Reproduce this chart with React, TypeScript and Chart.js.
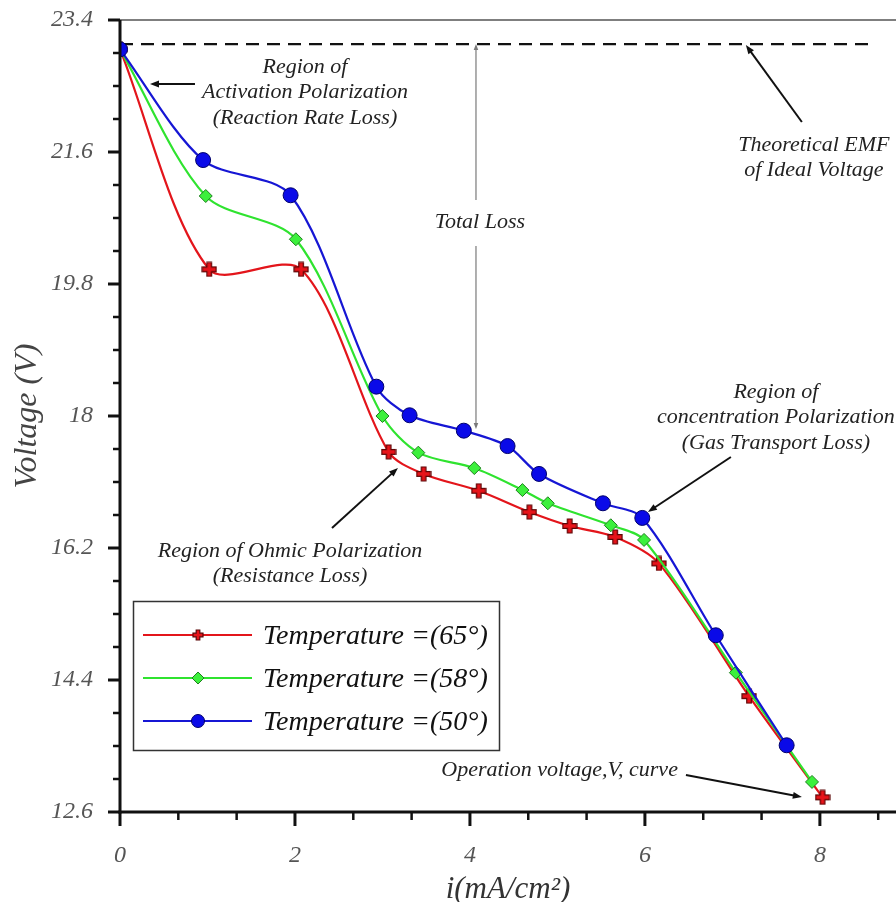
import React, { useEffect, useRef } from "react";
import { Chart, registerables } from "chart.js";
import { drawPoint } from "chart.js/helpers";

Chart.register(...registerables);

// ---------- data ----------
const seriesLabels = ["Temperature =(65°)", "Temperature =(58°)", "Temperature =(50°)"];

const current65 = [0, 1.02, 2.07, 3.07, 3.47, 4.1, 4.68, 5.14, 5.66, 6.16, 7.19, 8.03];
const voltage65 = [23.0, 20.0, 20.0, 17.51, 17.21, 16.98, 16.69, 16.5, 16.35, 15.99, 14.18, 12.8];

const current58 = [0, 0.98, 2.01, 3.0, 3.41, 4.05, 4.6, 4.89, 5.61, 5.99, 7.04, 7.91];
const voltage58 = [23.0, 21.0, 20.41, 18.0, 17.5, 17.29, 16.99, 16.81, 16.51, 16.31, 14.5, 13.01];

const current50 = [0, 0.95, 1.95, 2.93, 3.31, 3.93, 4.43, 4.79, 5.52, 5.97, 6.81, 7.62];
const voltage50 = [23.0, 21.49, 21.01, 18.4, 18.01, 17.8, 17.59, 17.21, 16.81, 16.61, 15.01, 13.51];

const emfCurrent = [0, 8.6];
const emfVoltage = [23.07, 23.07];

const yMajorTicks = [12.6, 14.4, 16.2, 18, 19.8, 21.6, 23.4];
const yTickLabels = ["12.6", "14.4", "16.2", "18", "19.8", "21.6", "23.4"];
const xMajorTicks = [0, 2, 4, 6, 8];
const xTickLabels = ["0", "2", "4", "6", "8"];
const yMinorStep = 0.45;
const xMinorStep = 2 / 3;

const X_MIN = 0;
const X_MAX = 8.87;
const Y_MIN = 12.6;
const Y_MAX = 23.4;

// ---------- helpers ----------
const pts = (xs: number[], ys: number[]) => xs.map((x, i) => ({ x, y: ys[i] }));
const near = (a: number, b: number) => Math.abs(a - b) < 1e-6;

const yAllTicks: number[] = [];
for (let v = Y_MIN; v <= Y_MAX + 1e-6; v += yMinorStep) yAllTicks.push(Math.round(v * 1000) / 1000);
const xAllTicks: number[] = [];
for (let i = 0; i * xMinorStep <= X_MAX + 1e-6; i++) xAllTicks.push(i * xMinorStep);

const SERIF = "'Liberation Serif', 'DejaVu Serif', serif";

const colors = {
  red: "#e3151b",
  green: "#2fe32f",
  blue: "#1616d4",
};

// annotation anchors are in data coordinates
const notes = [
  { lines: ["Region of", "Activation Polarization", "(Reaction Rate Loss)"], x: 2.114, y: 22.759, align: "center" },
  { lines: ["Total Loss"], x: 4.114, y: 20.645, align: "center" },
  { lines: ["Theoretical EMF", "of Ideal Voltage"], x: 7.931, y: 21.695, align: "center" },
  { lines: ["Region of", "concentration Polarization", "(Gas Transport Loss)"], x: 7.497, y: 18.327, align: "center" },
  { lines: ["Region of Ohmic Polarization", "(Resistance Loss)"], x: 1.943, y: 16.159, align: "center" },
  { lines: ["Operation voltage,V, curve"], x: 6.377, y: 13.173, align: "right" },
];

const arrows = [
  { from: [0.857, 22.527], to: [0.343, 22.527], color: "#111", width: 2, head: 9 },
  { from: [4.069, 20.945], to: [4.069, 23.073], color: "#7a7a7a", width: 1.2, head: 6 },
  { from: [4.069, 20.318], to: [4.069, 17.823], color: "#7a7a7a", width: 1.2, head: 6 },
  { from: [7.794, 22.009], to: [7.154, 23.059], color: "#111", width: 2, head: 9 },
  { from: [6.983, 17.441], to: [6.034, 16.691], color: "#111", width: 2, head: 9 },
  { from: [2.423, 16.473], to: [3.177, 17.291], color: "#111", width: 2, head: 9 },
  { from: [6.469, 13.105], to: [7.794, 12.805], color: "#111", width: 2, head: 9 },
];

function makeCross(size: number, arm: number) {
  const c = document.createElement("canvas");
  c.width = size;
  c.height = size;
  const g = c.getContext("2d")!;
  const m = size / 2;
  const L = size / 2 - 1;
  g.beginPath();
  g.moveTo(m - arm, m - L);
  g.lineTo(m + arm, m - L);
  g.lineTo(m + arm, m - arm);
  g.lineTo(m + L, m - arm);
  g.lineTo(m + L, m + arm);
  g.lineTo(m + arm, m + arm);
  g.lineTo(m + arm, m + L);
  g.lineTo(m - arm, m + L);
  g.lineTo(m - arm, m + arm);
  g.lineTo(m - L, m + arm);
  g.lineTo(m - L, m - arm);
  g.lineTo(m - arm, m - arm);
  g.closePath();
  g.fillStyle = "#e8141a";
  g.fill();
  g.strokeStyle = "#5a0505";
  g.lineWidth = 1.2;
  g.stroke();
  return c;
}

function line(ctx: CanvasRenderingContext2D, x1: number, y1: number, x2: number, y2: number) {
  ctx.beginPath();
  ctx.moveTo(x1, y1);
  ctx.lineTo(x2, y2);
  ctx.stroke();
}

function makeDecor(legendCross: HTMLCanvasElement) {
  const legendStyles: any[] = [
    { color: colors.red, pointStyle: legendCross, radius: 6, fill: colors.red, stroke: "#7a0a0a", bw: 1 },
    { color: colors.green, pointStyle: "rectRot", radius: 6, fill: "#3cf03c", stroke: "#1f7f1f", bw: 1 },
    { color: colors.blue, pointStyle: "circle", radius: 6.5, fill: "#0a0ae8", stroke: "#00006a", bw: 1 },
  ];
  return {
    id: "decor",
    afterDraw(chart: any) {
      const ctx: CanvasRenderingContext2D = chart.ctx;
      const xs = chart.scales.x;
      const ys = chart.scales.y;
      const ca = chart.chartArea;
      ctx.save();

      // top frame
      ctx.strokeStyle = "#555";
      ctx.lineWidth = 1.5;
      line(ctx, ca.left, ca.top, ca.right, ca.top);

      // axes
      ctx.strokeStyle = "#111";
      ctx.lineWidth = 3;
      line(ctx, ca.left, ca.top, ca.left, ca.bottom + 1.5);
      line(ctx, ca.left - 1.5, ca.bottom, ca.right, ca.bottom);

      // y ticks
      yAllTicks.forEach((v) => {
        const y = ys.getPixelForValue(v);
        const major = yMajorTicks.some((m) => near(m, v));
        ctx.lineWidth = major ? 3 : 2.5;
        line(ctx, ca.left - (major ? 12 : 7), y, ca.left, y);
      });
      // x ticks
      xAllTicks.forEach((v) => {
        const x = xs.getPixelForValue(v);
        const major = xMajorTicks.some((m) => near(m, v));
        ctx.lineWidth = major ? 3 : 2.5;
        line(ctx, x, ca.bottom, x, ca.bottom + (major ? 14 : 8));
      });

      // arrows
      arrows.forEach((a) => {
        const x1 = xs.getPixelForValue(a.from[0]);
        const y1 = ys.getPixelForValue(a.from[1]);
        const x2 = xs.getPixelForValue(a.to[0]);
        const y2 = ys.getPixelForValue(a.to[1]);
        const ang = Math.atan2(y2 - y1, x2 - x1);
        const c = Math.cos(ang), s = Math.sin(ang), h = a.head;
        ctx.strokeStyle = a.color;
        ctx.fillStyle = a.color;
        ctx.lineWidth = a.width;
        line(ctx, x1, y1, x2 - c * h * 0.6, y2 - s * h * 0.6);
        ctx.beginPath();
        ctx.moveTo(x2, y2);
        ctx.lineTo(x2 - c * h + s * h * 0.38, y2 - s * h - c * h * 0.38);
        ctx.lineTo(x2 - c * h - s * h * 0.38, y2 - s * h + c * h * 0.38);
        ctx.closePath();
        ctx.fill();
      });

      // notes
      ctx.fillStyle = "#222";
      ctx.font = `italic 22px ${SERIF}`;
      ctx.textBaseline = "middle";
      notes.forEach((n) => {
        const x = xs.getPixelForValue(n.x);
        const y0 = ys.getPixelForValue(n.y);
        ctx.textAlign = n.align as CanvasTextAlign;
        n.lines.forEach((t, i) => ctx.fillText(t, x, y0 + i * 25.5));
      });

      // legend
      const lx = 133.5, ly = 601.5, lw = 366, lh = 149;
      ctx.fillStyle = "#fff";
      ctx.fillRect(lx, ly, lw, lh);
      ctx.strokeStyle = "#333";
      ctx.lineWidth = 1.5;
      ctx.strokeRect(lx, ly, lw, lh);
      const rows = [635, 678, 721];
      ctx.font = `italic 28px ${SERIF}`;
      ctx.textAlign = "left";
      ctx.textBaseline = "middle";
      seriesLabels.forEach((label, i) => {
        const st = legendStyles[i];
        const y = rows[i];
        ctx.strokeStyle = st.color;
        ctx.lineWidth = 2;
        line(ctx, 143, y, 252, y);
        ctx.fillStyle = st.fill;
        ctx.strokeStyle = st.stroke;
        ctx.lineWidth = st.bw;
        drawPoint(ctx, { pointStyle: st.pointStyle, radius: st.radius, rotation: 0, borderWidth: st.bw } as any, 198, y);
        ctx.fillStyle = "#111";
        ctx.fillText(label, 263, y + 2);
      });

      ctx.restore();
    },
  };
}

const zeroPad = (s: any) => {
  s.paddingTop = 0;
  s.paddingBottom = 0;
  s.paddingLeft = 0;
  s.paddingRight = 0;
};

export default function App() {
  const ref = useRef<HTMLCanvasElement | null>(null);

  useEffect(() => {
    if (!ref.current) return;
    const plotCross = makeCross(16, 2.3);
    const legendCross = makeCross(12, 1.8);
    const chart = new Chart(ref.current, {
      type: "line",
      data: {
        datasets: [
          {
            label: seriesLabels[2],
            data: pts(current50, voltage50),
            borderColor: colors.blue,
            borderWidth: 2.2,
            tension: 0.3,
            pointStyle: "circle",
            pointRadius: 7.5,
            pointBackgroundColor: "#0a0ae8",
            pointBorderColor: "#00006a",
            pointBorderWidth: 1,
          },
          {
            label: seriesLabels[1],
            data: pts(current58, voltage58),
            borderColor: colors.green,
            borderWidth: 2.2,
            tension: 0.3,
            pointStyle: "rectRot",
            pointRadius: 6.5,
            pointBackgroundColor: "#3cf03c",
            pointBorderColor: "#1f7f1f",
            pointBorderWidth: 1,
          },
          {
            label: seriesLabels[0],
            data: pts(current65, voltage65),
            borderColor: colors.red,
            borderWidth: 2.2,
            tension: 0.3,
            pointStyle: plotCross as any,
            pointRadius: 8,
          },
          {
            label: "Theoretical EMF",
            data: pts(emfCurrent, emfVoltage),
            borderColor: "#111",
            borderWidth: 2.2,
            borderDash: [13, 8],
            pointRadius: 0,
            tension: 0,
          },
        ],
      },
      options: {
        animation: false,
        responsive: false,
        devicePixelRatio: 1,
        layout: { autoPadding: false, padding: { left: 0, top: 20, right: 0, bottom: 0 } },
        plugins: { legend: { display: false }, tooltip: { enabled: false } },
        scales: {
          x: {
            type: "linear",
            min: X_MIN,
            max: X_MAX,
            grid: { display: false },
            border: { display: false },
            afterBuildTicks: (s: any) => {
              s.ticks = xAllTicks.map((v) => ({ value: v }));
            },
            afterFit: (s: any) => {
              s.height = 108;
              zeroPad(s);
            },
            ticks: {
              autoSkip: false,
              maxRotation: 0,
              padding: 21,
              color: "#555",
              font: { family: SERIF, style: "italic", size: 24 },
              callback: (v: any) => {
                const i = xMajorTicks.findIndex((m) => near(m, Number(v)));
                return i >= 0 ? xTickLabels[i] : "";
              },
            },
            title: {
              display: true,
              text: "i(mA/cm²)",
              color: "#333",
              font: { family: SERIF, style: "italic", size: 31 },
              padding: { top: 0, bottom: 12 },
            },
          },
          y: {
            type: "linear",
            min: Y_MIN,
            max: Y_MAX,
            grid: { display: false },
            border: { display: false },
            afterBuildTicks: (s: any) => {
              s.ticks = yAllTicks.map((v) => ({ value: v }));
            },
            afterFit: (s: any) => {
              s.width = 120;
              zeroPad(s);
            },
            ticks: {
              autoSkip: false,
              padding: 19,
              color: "#555",
              font: { family: SERIF, style: "italic", size: 24 },
              callback: (v: any) => {
                const i = yMajorTicks.findIndex((m) => near(m, Number(v)));
                return i >= 0 ? yTickLabels[i] : "";
              },
            },
            title: {
              display: true,
              text: "Voltage (V)",
              color: "#444",
              font: { family: SERIF, style: "italic", size: 32 },
              padding: { top: 8, bottom: 0 },
            },
          },
        },
      },
      plugins: [makeDecor(legendCross)],
    });
    return () => chart.destroy();
  }, []);

  return (
    <div style={{ position: "absolute", left: 0, top: 0, width: 896, height: 902, overflow: "hidden", background: "#fff" }}>
      <canvas ref={ref} width={896} height={920} style={{ display: "block", width: 896, height: 920 }} />
    </div>
  );
}
